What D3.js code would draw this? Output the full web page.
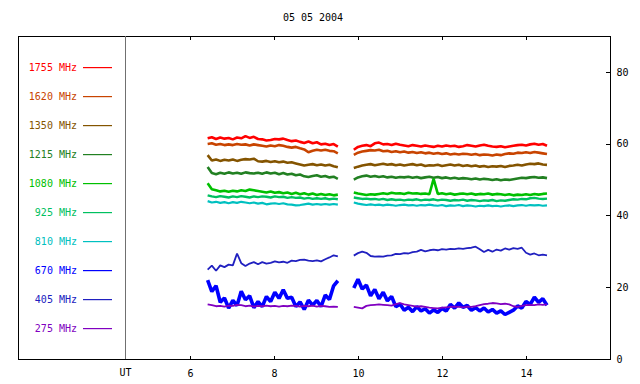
<!DOCTYPE html>
<html>
<head>
<meta charset="utf-8">
<script src="https://cdn.jsdelivr.net/npm/d3@7"></script>
<style>
  body { margin: 0; background: #fff; }
  text { font-family: "DejaVu Sans Mono", monospace; font-size: 10px; }
</style>
</head>
<body>
<div id="chart"></div>
<script>
// sample times (UT hours) of the two recording blocks
timesA = [6.42, 6.52, 6.62, 6.72, 6.82, 6.92, 7.02, 7.12, 7.22, 7.32, 7.42, 7.52, 7.62, 7.72, 7.82, 7.92,
          8.02, 8.12, 8.22, 8.32, 8.42, 8.52, 8.62, 8.72, 8.82, 8.92, 9.02, 9.12, 9.22, 9.32, 9.42, 9.52]
timesB = [9.9, 10.0, 10.1, 10.2, 10.3, 10.4, 10.5, 10.6, 10.7, 10.8, 10.9, 11.0, 11.1, 11.2, 11.3, 11.4,
          11.5, 11.6, 11.7, 11.8, 11.9, 12.0, 12.1, 12.2, 12.3, 12.4, 12.5, 12.6, 12.7, 12.8, 12.9, 13.0,
          13.1, 13.2, 13.3, 13.4, 13.5, 13.6, 13.7, 13.8, 13.9, 14.0, 14.1, 14.2, 14.3, 14.4, 14.5]

freqs = [1755, 1620, 1350, 1215, 1080, 925, 810, 670, 405, 275]
colors = ["#ff0000", "#c84400", "#845400", "#228022", "#00c000", "#00c060", "#00c0c0", "#0000ff", "#2020c0", "#8000c0"]

xTicks = [6, 8, 10, 12, 14]
yTicks = [0, 20, 40, 60, 80]

f1755A = [61.5, 61.8, 61.3, 61.7, 61.4, 61.6, 61.2, 61.7, 61.5, 62.1, 61.6, 61.9, 61.3, 61.2, 60.9, 61.0,
          61.3, 61.2, 61.4, 61.0, 60.7, 60.9, 60.5, 60.2, 60.6, 60.1, 60.4, 59.8, 60.0, 59.6, 59.9, 59.2]
f1755B = [58.3, 59.1, 59.4, 59.6, 59.3, 60.1, 60.3, 59.8, 59.9, 59.6, 60.0, 59.7, 59.5, 59.3, 59.6, 59.4,
          59.2, 59.5, 59.3, 59.1, 59.4, 59.2, 59.5, 59.3, 59.4, 59.1, 59.3, 59.6, 59.4, 59.2, 59.5, 59.7,
          59.4, 59.2, 59.1, 59.3, 59.0, 59.2, 59.4, 59.6, 59.7, 59.5, 59.8, 60.0, 59.7, 59.9, 59.4]

f1620A = [59.9, 60.1, 59.7, 59.9, 59.6, 59.8, 59.6, 59.9, 59.7, 59.8, 59.5, 59.8, 59.6, 59.4, 59.2, 59.5,
          59.3, 59.6, 59.4, 59.1, 58.9, 59.1, 58.7, 58.4, 57.6, 58.0, 58.3, 58.1, 58.3, 58.0, 57.9, 57.3]
f1620B = [56.9, 57.5, 57.8, 58.0, 58.2, 58.1, 58.3, 57.9, 58.0, 57.7, 57.9, 57.6, 57.8, 57.5, 57.7, 57.4,
          57.6, 57.3, 57.5, 57.2, 57.4, 57.1, 57.3, 57.0, 57.2, 57.0, 57.2, 57.1, 56.9, 57.1, 56.8, 57.0,
          56.9, 56.7, 57.0, 56.8, 57.1, 57.3, 57.2, 57.5, 57.4, 57.6, 57.4, 57.7, 57.5, 57.3, 57.1]

f1350A = [56.8, 55.3, 55.6, 55.2, 55.5, 55.3, 55.6, 55.2, 55.5, 55.7, 55.6, 55.8, 55.1, 55.0, 55.2, 54.9,
          55.1, 54.8, 55.0, 54.7, 54.8, 54.5, 54.2, 53.9, 54.1, 54.3, 54.0, 54.2, 53.9, 54.1, 53.7, 53.4]
f1350B = [53.2, 53.6, 53.9, 54.1, 54.3, 54.0, 54.2, 54.4, 54.1, 54.3, 54.0, 54.2, 53.9, 54.1, 54.3, 54.0,
          54.2, 53.8, 54.0, 53.9, 54.1, 53.8, 54.0, 54.2, 53.9, 54.1, 53.8, 54.0, 53.7, 53.9, 53.6, 53.8,
          53.5, 53.7, 53.6, 53.8, 53.5, 53.8, 53.9, 54.1, 53.9, 54.2, 54.4, 54.3, 54.5, 54.2, 54.1]

f1215A = [53.5, 51.8, 51.5, 51.9, 51.6, 52.0, 51.7, 51.9, 51.6, 52.0, 51.8, 51.7, 51.9, 51.6, 52.0, 51.7,
          51.9, 51.5, 51.8, 51.4, 51.6, 51.2, 51.4, 50.9, 50.7, 51.0, 51.2, 50.8, 51.0, 50.6, 50.8, 50.2]
f1215B = [50.0, 50.6, 50.9, 51.1, 50.8, 51.0, 50.7, 50.9, 50.6, 50.8, 50.5, 50.7, 50.6, 50.8, 50.5, 50.7,
          50.4, 50.6, 50.8, 50.5, 50.7, 50.4, 50.6, 50.3, 50.5, 50.2, 50.4, 50.3, 50.1, 50.3, 50.0, 50.2,
          50.1, 49.9, 50.1, 49.8, 50.0, 49.9, 50.1, 50.3, 50.5, 50.4, 50.6, 50.7, 50.5, 50.6, 50.4]

f1080A = [49.0, 47.3, 47.0, 46.7, 46.9, 46.6, 46.9, 46.7, 47.0, 46.8, 47.2, 47.0, 46.8, 46.6, 46.4, 46.7,
          46.3, 46.5, 46.2, 46.4, 46.0, 46.3, 45.9, 46.2, 45.8, 46.1, 45.7, 46.0, 45.7, 45.9, 45.6, 45.8]
f1080B = [46.4, 46.1, 45.9, 45.7, 45.9, 45.8, 46.0, 46.2, 46.0, 46.3, 46.1, 46.2, 46.0, 46.3, 46.1, 46.2,
          46.0, 46.1, 45.9, 50.2, 46.0, 46.2, 45.9, 46.1, 45.8, 46.0, 46.1, 45.9, 46.1, 45.8, 46.0, 45.9,
          46.1, 45.8, 46.0, 45.9, 45.7, 45.9, 45.6, 45.8, 45.7, 45.9, 45.7, 46.0, 45.8, 46.0, 46.1]

f925A = [45.6, 45.3, 45.1, 45.4, 45.2, 45.0, 45.3, 45.1, 45.4, 45.2, 45.0, 45.3, 45.1, 45.3, 45.2, 45.0,
         45.3, 45.1, 45.2, 44.9, 45.1, 44.9, 45.0, 44.7, 44.9, 44.6, 44.8, 44.6, 44.8, 44.5, 44.7, 44.5]
f925B = [45.0, 44.8, 44.6, 44.7, 44.5, 44.6, 44.4, 44.6, 44.3, 44.5, 44.3, 44.4, 44.2, 44.4, 44.3, 44.5,
         44.2, 44.4, 44.3, 44.5, 44.2, 44.4, 44.3, 44.1, 44.3, 44.2, 44.4, 44.1, 44.3, 44.2, 44.0, 44.2,
         44.1, 44.3, 44.0, 44.2, 44.1, 44.3, 44.5, 44.4, 44.6, 44.5, 44.8, 44.9, 44.7, 44.6, 44.7]

f810A = [44.0, 43.6, 43.8, 43.5, 43.7, 43.4, 43.7, 43.5, 43.8, 43.6, 43.4, 43.6, 43.3, 43.5, 43.1, 43.3,
         43.4, 43.2, 43.4, 43.1, 43.0, 42.8, 42.9, 43.1, 43.3, 43.0, 43.2, 43.0, 43.2, 43.0, 43.2, 43.0]
f810B = [43.6, 43.3, 43.1, 42.9, 43.1, 42.9, 43.0, 42.8, 43.0, 42.9, 42.7, 42.9, 43.0, 42.8, 42.9, 42.7,
         42.9, 42.8, 43.0, 42.8, 42.7, 42.9, 42.6, 42.8, 42.7, 42.9, 42.6, 42.8, 42.7, 42.5, 42.7, 42.6,
         42.8, 42.6, 42.7, 42.5, 42.7, 42.8, 42.6, 42.8, 42.9, 42.7, 42.9, 42.8, 42.9, 42.7, 42.8]

f670A = [22.0, 18.8, 20.4, 15.8, 17.0, 14.2, 16.3, 14.9, 18.9, 16.5, 17.6, 14.3, 16.0, 14.6, 17.4, 16.0,
         18.6, 16.9, 19.3, 16.9, 17.2, 14.6, 15.9, 13.8, 16.4, 15.0, 16.3, 14.6, 17.8, 16.6, 20.4, 21.8]
f670B = [19.8, 22.2, 19.5, 20.6, 17.6, 19.4, 16.8, 18.6, 16.2, 17.4, 14.6, 15.3, 13.6, 14.4, 13.2, 14.6,
         13.4, 14.0, 12.8, 13.7, 13.0, 14.1, 13.4, 15.2, 14.2, 15.6, 14.4, 14.9, 13.6, 14.3, 13.4, 14.2,
         13.1, 13.8, 12.8, 13.4, 12.4, 13.0, 13.6, 14.8, 14.2, 16.0, 15.2, 17.2, 15.8, 16.8, 15.0]

f405A = [24.9, 26.0, 24.6, 26.1, 25.6, 26.3, 26.1, 29.4, 26.7, 25.9, 26.6, 27.0, 26.4, 27.0, 26.6, 26.8,
         27.2, 26.9, 27.1, 26.8, 27.4, 27.3, 27.6, 27.7, 27.4, 27.3, 27.5, 27.2, 27.8, 28.3, 28.9, 28.6]
f405B = [28.8, 29.5, 29.9, 29.6, 28.7, 28.5, 28.6, 28.5, 28.8, 28.9, 29.3, 29.2, 29.5, 29.4, 29.8, 29.9,
         30.4, 30.0, 30.3, 30.5, 30.3, 30.6, 30.5, 30.7, 30.6, 30.8, 30.7, 30.9, 31.0, 31.3, 30.6, 29.8,
         30.4, 29.9, 30.5, 30.2, 30.8, 30.5, 30.9, 30.7, 31.0, 29.6, 29.1, 29.4, 28.9, 29.1, 28.9]

f275A = [15.2, 15.0, 14.7, 14.8, 14.6, 14.9, 14.8, 15.1, 15.0, 14.7, 14.9, 14.6, 14.8, 14.7, 14.9, 14.7,
         14.8, 14.6, 14.8, 14.7, 14.9, 14.8, 14.6, 14.8, 14.7, 14.9, 14.6, 14.8, 14.7, 14.5, 14.6, 14.5]
f275B = [14.5, 14.3, 14.1, 14.8, 15.0, 15.1, 15.2, 15.1, 15.0, 14.9, 15.3, 15.6, 15.2, 15.0, 14.8, 14.6,
         14.7, 14.5, 14.3, 14.2, 14.1, 14.3, 14.4, 14.5, 14.6, 14.5, 14.4, 14.6, 14.5, 14.7, 15.0, 15.3,
         15.4, 15.6, 15.5, 15.3, 15.4, 15.2, 14.7, 14.5, 14.8, 15.0, 15.1, 15.0, 15.2, 15.1, 15.2]

blocksA = [f1755A, f1620A, f1350A, f1215A, f1080A, f925A, f810A, f670A, f405A, f275A]
blocksB = [f1755B, f1620B, f1350B, f1215B, f1080B, f925B, f810B, f670B, f405B, f275B]

// line thickness per channel: the noisier ones read as wider bands
widths = [2.6, 2.6, 2.6, 2.6, 2.6, 2.4, 2.2, 3.6, 1.8, 1.8]

draw_chart()

function draw_chart() {
    const width = 640
    const height = 384
    const frameL = 18
    const frameR = 610
    const frameT = 36
    const frameB = 359
    const utLine = 125.5

    const svg = d3.select("#chart")
        .append("svg")
        .attr("width", width)
        .attr("height", height)

    const x = d3.scaleLinear().domain([6, 16]).range([190, frameR])
    const y = d3.scaleLinear().domain([0, 90]).range([frameB, frameT])

    // title
    svg.append("text")
        .attr("x", 313)
        .attr("y", 21)
        .attr("text-anchor", "middle")
        .text("05 05 2004")

    // axes, ticks pointing inward
    svg.append("g")
        .attr("transform", "translate(0," + (frameB + 0.5) + ")")
        .call(d3.axisBottom(x).tickValues(xTicks).tickSize(-4).tickSizeOuter(0).tickPadding(10))
    svg.append("g")
        .attr("transform", "translate(0," + (frameT + 0.5) + ")")
        .call(d3.axisTop(x).tickValues(xTicks).tickSize(-3).tickSizeOuter(0).tickFormat(""))
    svg.append("g")
        .attr("transform", "translate(" + (frameR + 0.5) + ",0)")
        .call(d3.axisRight(y).tickValues(yTicks).tickSize(-5).tickSizeOuter(0).tickPadding(6))

    svg.selectAll(".domain").remove()
    svg.selectAll(".tick line").attr("stroke", "#000").attr("shape-rendering", "crispEdges")
    svg.selectAll(".tick text").attr("font-family", "DejaVu Sans Mono").attr("font-size", "10px")

    // frame
    svg.append("rect")
        .attr("x", frameL + 0.5)
        .attr("y", frameT + 0.5)
        .attr("width", frameR - frameL)
        .attr("height", frameB - frameT)
        .attr("fill", "none")
        .attr("stroke", "#000")
        .attr("shape-rendering", "crispEdges")

    svg.append("line")
        .attr("x1", utLine).attr("x2", utLine)
        .attr("y1", frameT).attr("y2", frameB)
        .attr("stroke", "#707070")
        .attr("shape-rendering", "crispEdges")

    svg.append("text")
        .attr("x", utLine)
        .attr("y", 376)
        .attr("text-anchor", "middle")
        .text("UT")

    // legend
    const legend = svg.selectAll(".legend")
        .data(freqs)
        .enter()
        .append("g")
        .attr("class", "legend")
        .attr("transform", (d, i) => "translate(0," + (67 + i * 29) + ")")

    legend.append("text")
        .attr("x", 77)
        .attr("y", 0.5)
        .attr("dy", "0.35em")
        .attr("text-anchor", "end")
        .attr("fill", (d, i) => colors[i])
        .text((d) => d + " MHz")

    legend.append("rect")
        .attr("x", 83)
        .attr("width", 29)
        .attr("height", 1.2)
        .attr("fill", (d, i) => colors[i])

    // data
    const line = d3.line()
        .x((d) => x(d[0]))
        .y((d) => y(d[1]))

    freqs.forEach(function (f, i) {
        [[timesA, blocksA[i]], [timesB, blocksB[i]]].forEach(function (blk) {
            const pts = blk[1].map((v, k) => [blk[0][k], v]).filter((p) => p[0] != null)
            svg.append("path")
                .attr("d", line(pts))
                .attr("fill", "none")
                .attr("stroke", colors[i])
                .attr("stroke-width", widths[i])
                .attr("stroke-linejoin", "bevel")
        })
    })
}
</script>
</body>
</html>
